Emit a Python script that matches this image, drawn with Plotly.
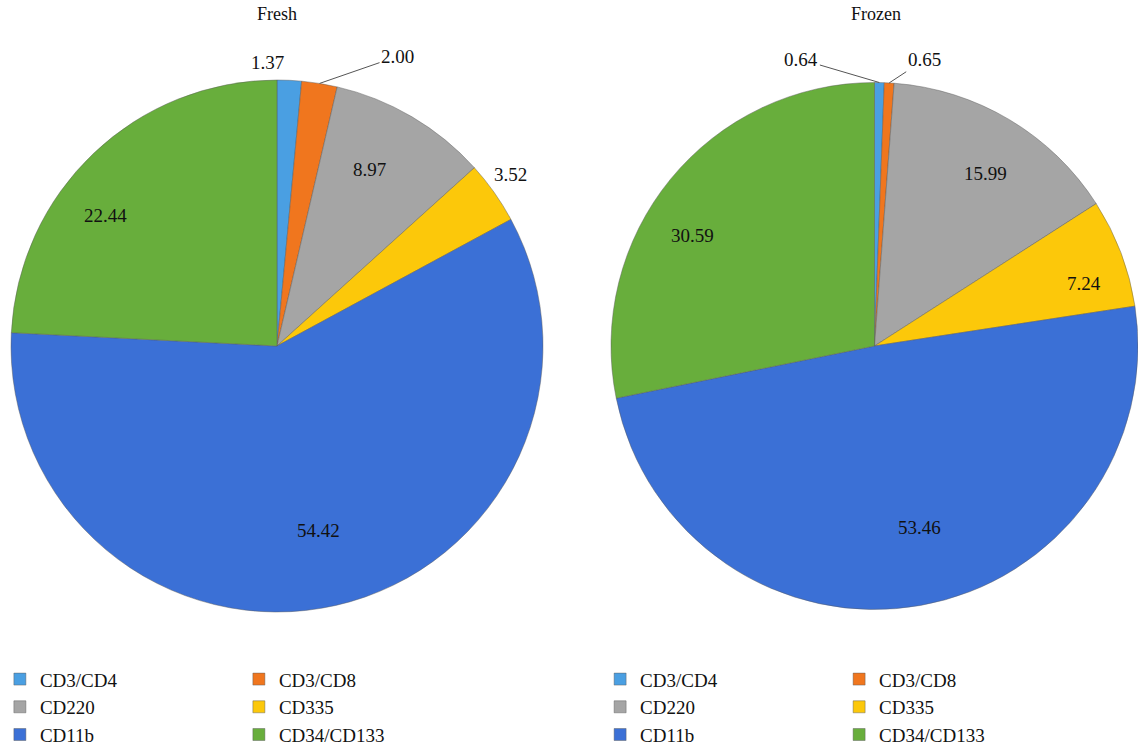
import math
import plotly.graph_objects as go

# Cell populations (percent of gated cells)
markers = ["CD3/CD4", "CD3/CD8", "CD220", "CD335", "CD11b", "CD34/CD133"]
fresh_values = [1.37, 2.00, 8.97, 3.52, 54.42, 22.44]
frozen_values = [0.64, 0.65, 15.99, 7.24, 53.46, 30.59]

slice_colors = ["#4A9FE2", "#F0761E", "#A5A5A5", "#FCC80A", "#3B70D6", "#68AE3C"]
edge_color = "rgba(90,90,90,0.45)"

W, H = 1138, 752
SERIF = "Liberation Serif, Times New Roman, serif"
TEXT = "#111111"

# pie boxes in pixels: (left, top, right, bottom)
fresh_box = (11, 80, 543, 612)
frozen_box = (611, 82, 1138, 610)

# label placement per slice:
#   ("in", radius fraction, angle nudge in degrees)  -> label on the slice
#   ("lead", dx, dy)                                  -> label with leader line
#   ("free", dx, dy)                                  -> label offset from the rim
fresh_labels = [("free", -22, -18), ("lead", 78, -27), ("in", 0.75, -3),
                ("in", 1.09, -1), ("in", 0.71, 0), ("in", 0.81, -9)]
frozen_labels = [("lead", -78, -23), ("lead", 35, -23), ("in", 0.78, 2),
                 ("in", 0.83, 4), ("in", 0.71, -4), ("in", 0.81, -8)]


def paper_domain(box):
    l, t, r, b = box
    return dict(x=[l / W, r / W], y=[1 - b / H, 1 - t / H])


def pie_geometry(box):
    l, t, r, b = box
    cx, cy = (l + r) / 2, (t + b) / 2
    rad = min(r - l, b - t) / 2
    return cx, cy, rad


def value_labels(values, box, specs):
    """Annotations for each slice value, placed from the slice angles."""
    cx, cy, rad = pie_geometry(box)
    total = sum(values)
    out = []
    start = 0.0
    for v, spec in zip(values, specs):
        mid = (start + v / 2) / total * 2 * math.pi
        start += v
        kind = spec[0]
        frac = 1.0
        if kind == "in":
            frac = spec[1]
            mid += math.radians(spec[2])
        px = cx + rad * frac * math.sin(mid)
        py = cy - rad * frac * math.cos(mid)
        ann = dict(text=f"{v:.2f}", x=px / W, y=1 - py / H, xref="paper", yref="paper",
                   xanchor="center", yanchor="middle",
                   font=dict(family=SERIF, size=19, color=TEXT), showarrow=False)
        if kind in ("lead", "free"):
            ann.update(showarrow=True, ax=spec[1], ay=spec[2], arrowhead=0,
                       arrowwidth=1, standoff=0,
                       arrowcolor="#555555" if kind == "lead" else "rgba(0,0,0,0)")
        out.append(ann)
    return out


fig = go.Figure()

for values, box, lg, grp in ((fresh_values, fresh_box, "legend", "fresh"),
                             (frozen_values, frozen_box, "legend2", "frozen")):
    fig.add_trace(go.Pie(
        labels=markers, values=values, sort=False, direction="clockwise",
        rotation=0, textinfo="none", showlegend=True,
        marker=dict(colors=slice_colors, line=dict(color=edge_color, width=1)),
        domain=paper_domain(box), legend=lg, legendgroup=grp,
        hoverinfo="label+value",
    ))

legend_common = dict(
    orientation="h", entrywidth=194, entrywidthmode="pixels",
    font=dict(family=SERIF, size=19, color=TEXT),
    bgcolor="rgba(0,0,0,0)", bordercolor="rgba(0,0,0,0)",
    yanchor="top", traceorder="normal", visible=True,
)

# the right-hand legend is anchored to the right page edge; a clear border
# pads it so its two columns sit under the second pie
pad = 60

annotations = [
    dict(text="Fresh", x=277 / W, y=1 - 14 / H, xref="paper", yref="paper",
         xanchor="center", yanchor="middle", showarrow=False,
         font=dict(family=SERIF, size=18, color=TEXT)),
    dict(text="Frozen", x=876 / W, y=1 - 14 / H, xref="paper", yref="paper",
         xanchor="center", yanchor="middle", showarrow=False,
         font=dict(family=SERIF, size=18, color=TEXT)),
]
annotations += value_labels(fresh_values, fresh_box, fresh_labels)
annotations += value_labels(frozen_values, frozen_box, frozen_labels)

fig.update_layout(
    width=W, height=H, showlegend=True,
    margin=dict(l=0, r=0, t=0, b=0, autoexpand=False),
    paper_bgcolor="white", plot_bgcolor="white",
    legend=dict(x=-0.0001, xanchor="left", y=0.122, borderwidth=0, **legend_common),
    legend2=dict(x=1.0001, xanchor="right", y=0.122 + pad / H, borderwidth=pad,
                 **legend_common),
    annotations=annotations,
)

fig.write_html("out.html")
